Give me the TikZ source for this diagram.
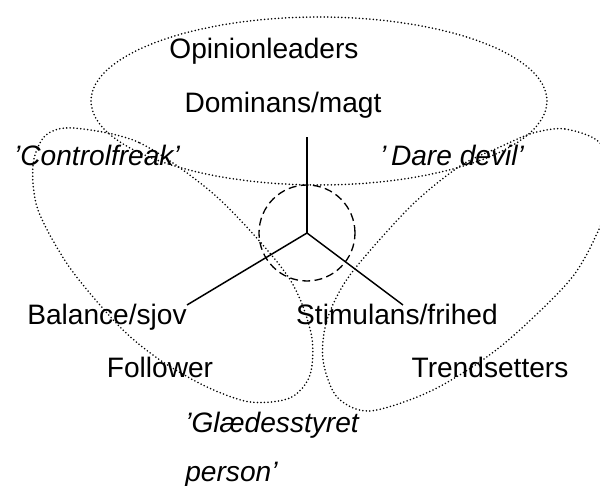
\documentclass[tikz,border=0pt]{standalone}
\usepackage{fontspec}
\setmainfont{Liberation Sans}

\begin{document}
\begin{tikzpicture}[x=0.02cm,y=-0.02cm,
  textlab/.style={font=\fontsize{16}{19}\selectfont,anchor=base,inner sep=0},
  quotelab/.style={textlab,font=\itshape\fontsize{16}{19}\selectfont},
  lobe/.style={line width=1pt,line cap=round,dash pattern=on 0pt off 2pt},
  axis/.style={line width=0.85pt}]

\clip (0,0) rectangle (600,486);

\draw [lobe] (319,101) ellipse [x radius=4.56cm, y radius=1.68cm];

\draw [lobe] plot [smooth cycle] coordinates {(73,128) (140,143) (217,197) (287,275) (311,333) (310,375) (290,398) (250,402) (207,387) (160,360) (120,327) (70,268) (38,210) (33,165) (45,136)};

\draw [lobe] plot [smooth cycle] coordinates {(533,133) (565,129) (600,143) (614,185) (600,227) (570,280) (500,347) (433,390) (370,411) (337,397) (323,360) (327,320) (350,275) (410,207) (460,166) (500,147)};

\draw [line width=0.75pt,dash pattern=on 4.5pt off 2.5pt] (307,233) circle [radius=0.96cm];

\coordinate (centre) at (307,233);
\coordinate (up) at (307,137);
\coordinate (downleft) at (187,305);
\coordinate (downright) at (403,305);

\draw [axis] (centre) -- (up);
\draw [axis] (centre) -- (downleft);
\draw [axis] (centre) -- (downright);

\node [textlab] (opinion) at (264,59) {Opinionleaders};
\node [textlab] (dominans) at (283,113) {Dominans/magt};
\node [quotelab] (control) at (97,166) {'Controlfreak'};
\node [quotelab] (daredevil) at (452,166) {'\,Dare devil'};
\node [textlab] (balance) at (107,325) {Balance/sjov};
\node [textlab] (stimulans) at (397,325) {Stimulans/frihed};
\node [textlab] (follower) at (160,378) {Follower};
\node [textlab] (trendsetters) at (490,378) {Trendsetters};
\node [quotelab,anchor=base west,align=left,font=\itshape\fontsize{16}{28.3}\selectfont] (glaede) at (185,482) {'Glædesstyret\\person'};

\end{tikzpicture}
\end{document}
